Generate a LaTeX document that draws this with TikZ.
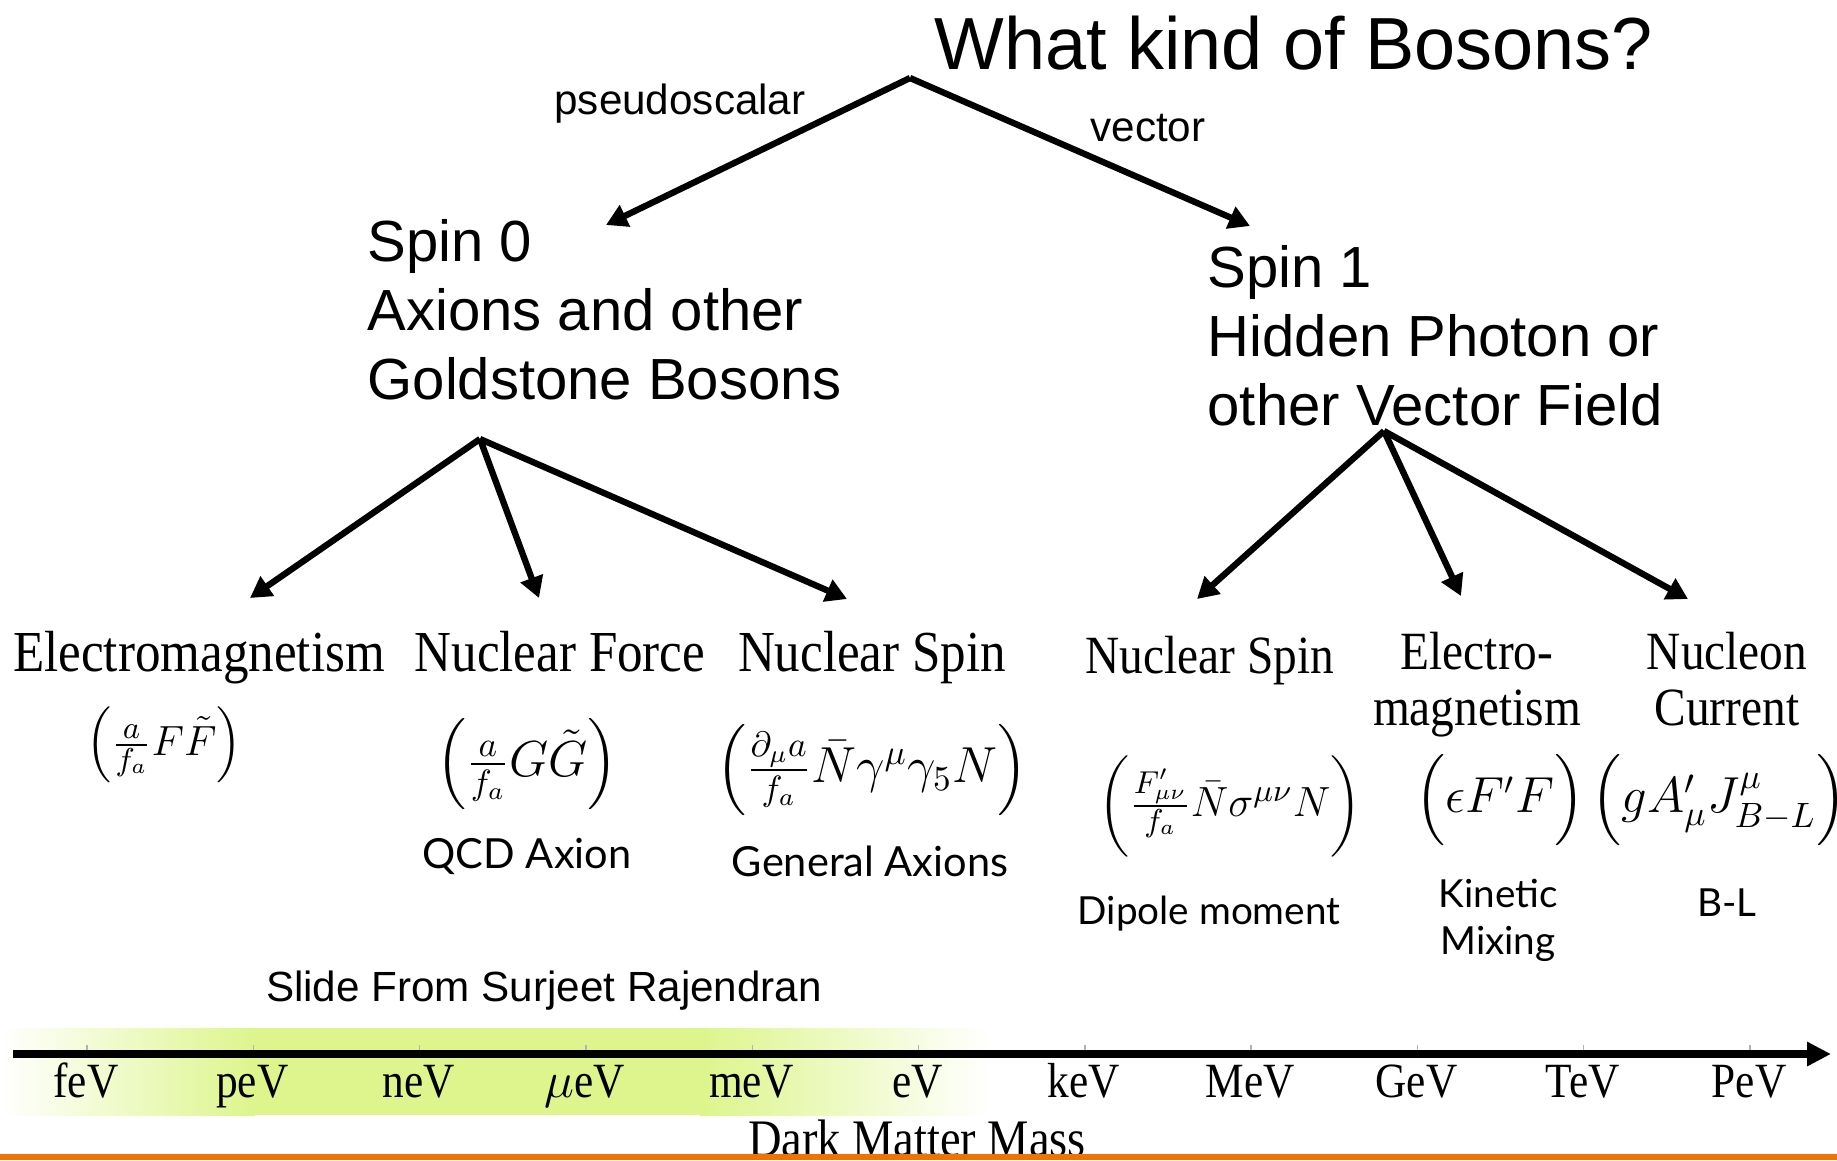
\documentclass[tikz,border=0pt]{standalone}
\usepackage{amsmath}
\usepackage{fontspec}
\setmainfont{Liberation Sans}
\newfontfamily\paperserif[FakeStretch=0.88]{Liberation Serif}
\newfontfamily\gillish{Lato}
\usetikzlibrary{arrows.meta,positioning}
\definecolor{dmgreen}{RGB}{221,245,140}
\definecolor{slideorange}{RGB}{242,114,0}

\begin{document}
\begin{tikzpicture}[
  x=0.01cm, y=-0.01cm,
  every node/.style={inner sep=0pt},
  title/.style={font=\fontsize{21}{25}\selectfont},
  branch/.style={font=\fontsize{12}{14}\selectfont},
  spin/.style={font=\fontsize{16.5}{19.6}\selectfont, align=left, anchor=west},
  force/.style={font=\paperserif\fontsize{16.5}{16}\selectfont, align=center, anchor=base},
  forcev/.style={font=\paperserif\fontsize{15.3}{15.9}\selectfont, align=center, anchor=base},
  coupling/.style={font=\fontsize{12.5}{15}\selectfont},
  model/.style={font=\gillish\fontsize{11.8}{13.4}\selectfont, align=center},
  modelv/.style={font=\gillish\fontsize{11}{13.4}\selectfont, align=center},
  tick/.style={font=\paperserif\fontsize{14}{16}\selectfont, anchor=base},
  tickmark/.style={gray!60, line width=0.4pt},
  arr/.style={-{Triangle[length=6pt,width=6.5pt]}, line width=1.8pt},
  axisarr/.style={-{Triangle[length=0.24cm,width=0.23cm]}, line width=2.3pt},
]
  \useasboundingbox (0,0) rectangle (1837,1160);
  % green mass window behind the axis
  \shade[left color=white, right color=dmgreen] (0,1028) rectangle (255,1115);
  \fill[dmgreen] (255,1028) rectangle (700,1115);
  \shade[left color=dmgreen, right color=white] (700,1028) rectangle (990,1115);

  % top of the tree
  \node[title, anchor=west] (boson) at (934,43) {What kind of Bosons?};
  \coordinate (top) at (910,78);
  \node[spin] (spin0) at (367,310) {Spin 0\\Axions and other\\Goldstone Bosons};
  \node[spin] (spin1) at (1207,336) {Spin 1\\Hidden Photon or\\other Vector Field};
  \coordinate (spin0tip) at (606,225);
  \coordinate (spin1tip) at (1250,226);
  \draw[arr] (top) -- (spin0tip);
  \draw[arr] (top) -- (spin1tip);
  \node[branch] (pseudo) at (680,104) {pseudoscalar};
  \node[branch] (vec) at (1148,128) {vector};

  % spin 0 couplings
  \coordinate (axroot) at (480,439);
  \node[force] (em) at (199,671) {Electromagnetism};
  \node[force] (nf) at (560,671) {Nuclear Force};
  \node[force] (nsa) at (872,671) {Nuclear Spin};
  \coordinate (emtip) at (250,598);
  \coordinate (nftip) at (539,598);
  \coordinate (nsatip) at (847,599);
  \draw[arr] (axroot) -- (emtip);
  \draw[arr] (axroot) -- (nftip);
  \draw[arr] (axroot) -- (nsatip);
  \node[coupling] (emop) at (164,745) {$\Big(\frac{a}{f_a}F\tilde F\Big)$};
  \node[coupling, font=\fontsize{14}{17}\selectfont] (nfop) at (527,764) {$\Big(\frac{a}{f_a}G\tilde G\Big)$};
  \node[coupling, font=\fontsize{13.8}{17}\selectfont] (nsaop) at (872,770) {$\Big(\frac{\partial_\mu a}{f_a}\bar N\gamma^\mu\gamma_5 N\Big)$};
  \node[model] (qcd) at (527,856) {QCD Axion};
  \node[model] (gen) at (870,861) {General Axions};

  % spin 1 couplings
  \coordinate (vroot) at (1384,431);
  \node[forcev] (nsv) at (1210,673) {Nuclear Spin};
  \node[forcev] (emv) at (1477,725) {Electro-\\magnetism};
  \node[forcev] (nc) at (1727,725) {Nucleon\\Current};
  \coordinate (nsvtip) at (1197,599);
  \coordinate (emvtip) at (1461,596);
  \coordinate (nctip) at (1688,599);
  \draw[arr] (vroot) -- (nsvtip);
  \draw[arr] (vroot) -- (emvtip);
  \draw[arr] (vroot) -- (nctip);
  \node[coupling] (nsvop) at (1230,806) {$\bigg(\frac{F'_{\mu\nu}}{f_a}\bar N\sigma^{\mu\nu}N\bigg)$};
  \node[coupling, font=\fontsize{13.4}{16}\selectfont] (emvop) at (1500,800) {$\Big(\epsilon F'F\Big)$};
  \node[coupling, font=\fontsize{13.8}{17}\selectfont] (ncop) at (1719,800) {$\Big(gA'_\mu J^\mu_{B-L}\Big)$};
  \node[modelv] (dip) at (1209,914) {Dipole moment};
  \node[modelv] (kin) at (1498,920) {Kinetic\\Mixing};
  \node[modelv] (bl) at (1727,903) {B-L};

  \node[font=\fontsize{12}{14}\selectfont] (credit) at (544,991) {Slide From Surjeet Rajendran};

  % mass axis
  \foreach \u [count=\i from 0] in {feV,peV,neV,$\mu$eV,meV,eV,keV,MeV,GeV,TeV,PeV}{
    \draw[tickmark] (87+166.3*\i,1045) -- (87+166.3*\i,1054);
    \node[tick] (t\i) at (86+166.3*\i,1097) {\u};
  }
  \coordinate (axl) at (13,1054);
  \coordinate (axr) at (1831,1054);
  \draw[axisarr] (axl) -- (axr);
  \node[tick, font=\paperserif\fontsize{15}{17}\selectfont] (dmm) at (917,1156) {Dark Matter Mass};
  \fill[slideorange] (0,1154) rectangle (1837,1160);
\end{tikzpicture}
\end{document}
